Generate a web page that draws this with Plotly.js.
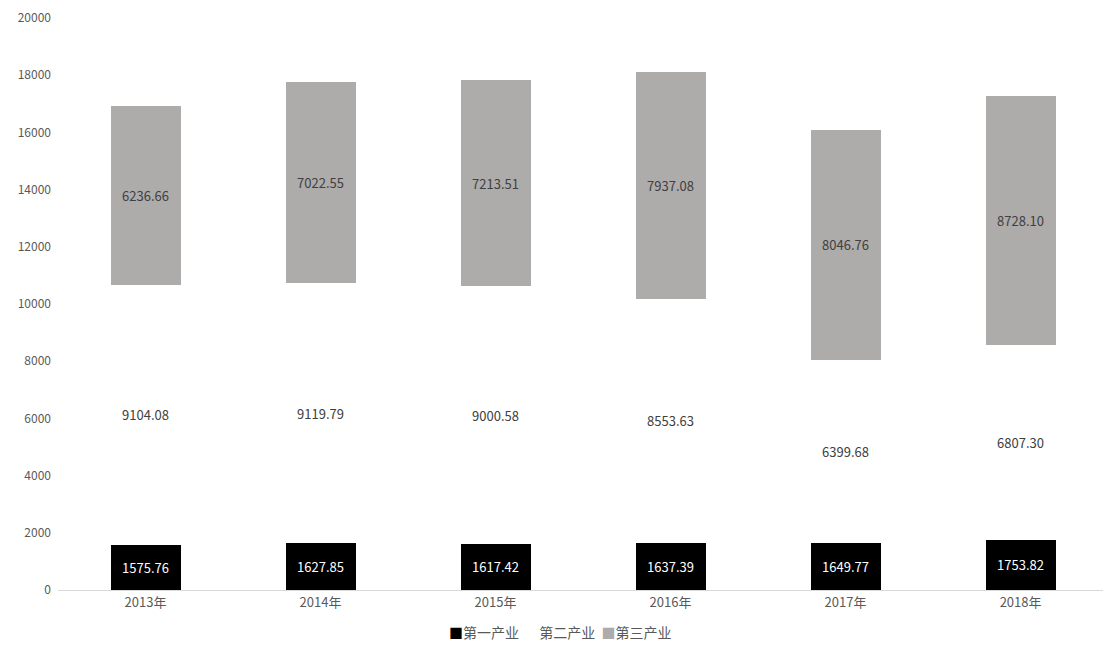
<!DOCTYPE html>
<html>
<head>
<meta charset="utf-8">
<script src="https://cdn.plot.ly/plotly-3.0.1.min.js"></script>
<style>html,body{margin:0;padding:0;background:#fff;}#chart{width:1103px;height:654px;}</style>
</head>
<body>
<div id="chart"></div>
<script>
const categories = ['2013年', '2014年', '2015年', '2016年', '2017年', '2018年'];
const primary = [1575.76, 1627.85, 1617.42, 1637.39, 1649.77, 1753.82];
const secondary = [9104.08, 9119.79, 9000.58, 8553.63, 6399.68, 6807.30];
const tertiary = [6236.66, 7022.55, 7213.51, 7937.08, 8046.76, 8728.10];
const seriesNames = ['第一产业', '第二产业', '第三产业'];
const yTicks = [0, 2000, 4000, 6000, 8000, 10000, 12000, 14000, 16000, 18000, 20000];

const FONT = '"Noto Sans CJK SC", "Microsoft YaHei", sans-serif';
const colors = ['#000000', 'rgba(0,0,0,0)', '#aeabab'];
const textColors = ['#ffffff', '#404040', '#404040'];
const seriesVals = [primary, secondary, tertiary];

const data = seriesVals.map((vals, i) => ({
  type: 'bar', name: seriesNames[i], x: categories, y: vals,
  marker: {color: colors[i], line: {width: 0}},
  texttemplate: '%{y:.2f}', textposition: 'inside', insidetextanchor: 'middle',
  textangle: 0, constraintext: 'none',
  textfont: {family: FONT, size: 13, color: textColors[i]},
  hoverinfo: 'x+y+name'
}));

const NB = '\u00a0';
const legendText = seriesNames.map((n, i) =>
  '<span style="color:' + (i === 1 ? 'rgba(0,0,0,0)' : colors[i]) + '">■</span>' + n
).join(NB + NB);

const layout = {
  width: 1103, height: 654,
  margin: {l: 58, r: 0, t: 18, b: 64},
  barmode: 'stack', bargap: 0.6,
  paper_bgcolor: '#ffffff', plot_bgcolor: '#ffffff',
  font: {family: FONT, size: 13, color: '#595959'},
  xaxis: {
    range: [-0.5, 5.471], showgrid: false, zeroline: false,
    showline: true, linecolor: '#d9d9d9', linewidth: 1,
    ticks: '', tickfont: {family: FONT, size: 13, color: '#595959'}
  },
  yaxis: {
    range: [0, 20000], tickvals: yTicks, tickformat: 'd', showgrid: false, zeroline: false,
    showline: false, ticks: '', ticklabelstandoff: 6,
    tickfont: {family: FONT, size: 12, color: '#595959'}
  },
  showlegend: false,
  annotations: [{
    text: legendText, xref: 'paper', yref: 'paper', x: 0.481, y: -0.073,
    xanchor: 'center', yanchor: 'middle', showarrow: false,
    font: {family: FONT, size: 14, color: '#595959'}
  }]
};
Plotly.newPlot('chart', data, layout, {displayModeBar: false, staticPlot: true});
</script>
</body>
</html>
